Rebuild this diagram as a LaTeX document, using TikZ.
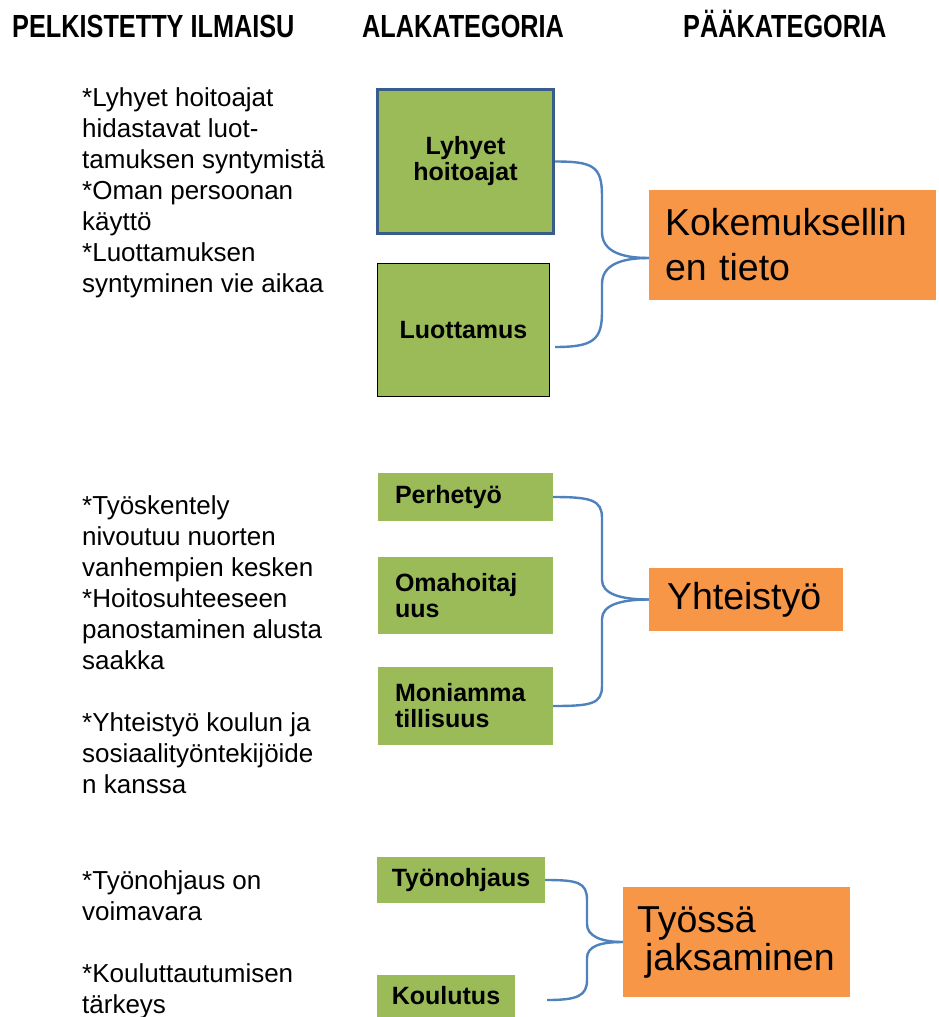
\documentclass[tikz,border=0pt]{standalone}
\usepackage{fontspec}
\setmainfont{Liberation Sans}
\newfontfamily\headfont[FakeStretch=0.79]{Liberation Sans}
\usepackage{tikz}
\usetikzlibrary{calc,positioning}
\definecolor{leaf}{HTML}{9BBB59}
\definecolor{amber}{HTML}{F79646}
\definecolor{braceblue}{HTML}{4F81BD}
\definecolor{edgeblue}{HTML}{385D8A}

\begin{document}
\begin{tikzpicture}[x=1pt,y=-1pt,
 hd/.style={font=\headfont\bfseries\fontsize{32}{38}\selectfont,inner sep=0pt,anchor=base west},
 txt/.style={font=\fontsize{26}{31}\selectfont,align=left,inner sep=0pt,anchor=base west},
 sub/.style={fill=leaf,inner sep=0pt,font=\bfseries\fontsize{25}{26}\selectfont,align=center},
 subl/.style={sub,align=left,inner xsep=17pt,text width=141pt},
 main/.style={fill=amber,inner ysep=0pt,font=\fontsize{37.5}{45}\selectfont,align=left},
 brace/.style={draw=braceblue,line width=2.4pt}]
\useasboundingbox (0,0) rectangle (939,1017);
\node[hd] (hpel) at (12,37) {PELKISTETTY ILMAISU};
\node[hd] (hala) at (362,37) {ALAKATEGORIA};
\node[hd] (hpaa) at (683,37) {PÄÄKATEGORIA};
\node[txt] (t1) at (82,292) {*Lyhyet hoitoajat\\hidastavat luot-\\tamuksen syntymistä\\*Oman persoonan\\käyttö\\*Luottamuksen\\syntyminen vie aikaa};
\node[txt] (t2) at (82,793) {*Työskentely\\nivoutuu nuorten\\vanhempien kesken\\*Hoitosuhteeseen\\panostaminen alusta\\saakka\\ \\*Yhteistyö koulun ja\\sosiaalityöntekijöide\\n kanssa};
\node[txt] (t3) at (82,1013) {*Työnohjaus on\\voimavara\\ \\*Kouluttautumisen\\tärkeys};
\node[sub,draw=edgeblue,line width=3pt,minimum width=176pt,minimum height=144pt] (lyh) at (465.5,161.5) {Lyhyet\\hoitoajat};
\node[sub,draw=black,line width=1.3pt,minimum width=172pt,minimum height=133pt] (luo) at (463.5,330) {Luottamus};
\node[subl,minimum height=48pt] (per) at (465.5,497) {Perhetyö};
\node[subl,minimum height=77pt] (oma) at (465.5,595.5) {Omahoitaj\\uus};
\node[subl,minimum height=78pt] (mon) at (465.5,706) {Moniamma\\tillisuus};
\node[sub,minimum width=168pt,minimum height=46pt] (tyo) at (461,880) {Työnohjaus};
\node[sub,minimum width=138pt,minimum height=42pt] (kou) at (446,996) {Koulutus};
\node[main,inner xsep=16pt,text width=255pt,minimum height=110pt] (kok) at (792.5,245) {Kokemuksellin\\en tieto};
\node[main,inner xsep=18pt,text width=158pt,minimum height=63pt] (yht) at (746,599.5) {Yhteistyö};
\node[main,inner xsep=14pt,text width=199pt,minimum height=110pt,font=\fontsize{37.5}{38}\selectfont] (jak) at (736.5,942) {Työssä\\\hspace*{8pt}jaksaminen};
\coordinate (ktip) at ($(kok.west)+(0,13)$);
\coordinate (luoend) at ($(luo.east)+(5,17)$);
\coordinate (kouend) at ($(kou.east)+(32,4)$);
\draw[brace] (lyh.east) .. controls +(38,0) and +(0,-30) .. (602,196) -- (602,232) .. controls +(0,18) and +(-30,0) .. (ktip);
\draw[brace] (ktip) .. controls +(-30,0) and +(0,-18) .. (602,284) -- (602,312) .. controls +(0,28) and +(38,0) .. (luoend);
\draw[brace] (per.east) .. controls +(38,0) and +(0,-18) .. (602,518) -- (602,580) .. controls +(0,14) and +(-28,0) .. (yht.west);
\draw[brace] (yht.west) .. controls +(-28,0) and +(0,-14) .. (602,619) -- (602,686) .. controls +(0,18) and +(38,0) .. (mon.east);
\draw[brace] (tyo.east) .. controls +(32,0) and +(0,-18) .. (587,900) -- (587,924) .. controls +(0,12) and +(-22,0) .. (jak.west);
\draw[brace] (jak.west) .. controls +(-22,0) and +(0,-12) .. (587,958) -- (587,980) .. controls +(0,16) and +(30,0) .. (kouend);
\end{tikzpicture}
\end{document}
